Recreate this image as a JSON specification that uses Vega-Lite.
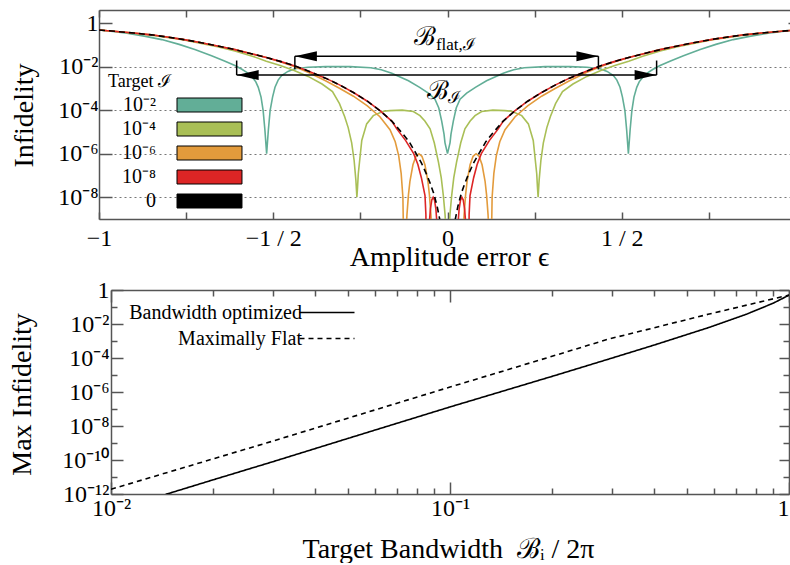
{
"$schema": "https://vega.github.io/schema/vega-lite/v6.json",
"background": "white",
"padding": {"left": 8, "top": 9, "right": 0, "bottom": 0},
"spacing": 71,
"columns": 1,
"bounds": "flush",
"center": true,
"datasets": {
"curves": [
{"s":"1e-2","e":-1,"v":0.479},{"s":"1e-2","e":-0.96,"v":0.407},{"s":"1e-2","e":-0.92,"v":0.339},{"s":"1e-2","e":-0.87,"v":0.251},{"s":"1e-2","e":-0.82,"v":0.174},{"s":"1e-2","e":-0.77,"v":0.105},{"s":"1e-2","e":-0.725,"v":0.0603},{"s":"1e-2","e":-0.677,"v":0.0316},{"s":"1e-2","e":-0.64,"v":0.0182},{"s":"1e-2","e":-0.61,"v":0.0112},{"s":"1e-2","e":-0.59,"v":0.00759},{"s":"1e-2","e":-0.575,"v":0.00525},{"s":"1e-2","e":-0.562,"v":0.00355},{"s":"1e-2","e":-0.55,"v":0.002},{"s":"1e-2","e":-0.543,"v":0.00112},{"s":"1e-2","e":-0.535,"v":3.98e-4},{"s":"1e-2","e":-0.529,"v":9.55e-5},{"s":"1e-2","e":-0.524,"v":1.26e-5},{"s":"1e-2","e":-0.519,"v":1e-6},{"s":"1e-2","e":-0.514,"v":1.26e-5},{"s":"1e-2","e":-0.509,"v":9.55e-5},{"s":"1e-2","e":-0.502,"v":3.98e-4},{"s":"1e-2","e":-0.495,"v":0.00112},{"s":"1e-2","e":-0.486,"v":0.0024},{"s":"1e-2","e":-0.476,"v":0.0039},{"s":"1e-2","e":-0.458,"v":0.006},{"s":"1e-2","e":-0.438,"v":0.00794},{"s":"1e-2","e":-0.4,"v":0.00933},{"s":"1e-2","e":-0.35,"v":0.01},{"s":"1e-2","e":-0.28,"v":0.01},{"s":"1e-2","e":-0.22,"v":0.00891},{"s":"1e-2","e":-0.19,"v":0.00724},{"s":"1e-2","e":-0.16,"v":0.005},{"s":"1e-2","e":-0.112,"v":0.00224},{"s":"1e-2","e":-0.08,"v":0.00112},{"s":"1e-2","e":-0.055,"v":6e-4},{"s":"1e-2","e":-0.036,"v":3.16e-4},{"s":"1e-2","e":-0.025,"v":1.26e-4},{"s":"1e-2","e":-0.0167,"v":3.16e-5},{"s":"1e-2","e":-0.01,"v":7.9e-6},{"s":"1e-2","e":-0.0072,"v":3.16e-6},{"s":"1e-2","e":0,"v":1e-6},
{"s":"1e-2","e":0.0072,"v":3.16e-6},{"s":"1e-2","e":0.01,"v":7.9e-6},{"s":"1e-2","e":0.0167,"v":3.16e-5},{"s":"1e-2","e":0.025,"v":1.26e-4},{"s":"1e-2","e":0.036,"v":3.16e-4},{"s":"1e-2","e":0.055,"v":6e-4},{"s":"1e-2","e":0.08,"v":0.00112},{"s":"1e-2","e":0.112,"v":0.00224},{"s":"1e-2","e":0.16,"v":0.005},{"s":"1e-2","e":0.19,"v":0.00724},{"s":"1e-2","e":0.22,"v":0.00891},{"s":"1e-2","e":0.28,"v":0.01},{"s":"1e-2","e":0.35,"v":0.01},{"s":"1e-2","e":0.4,"v":0.00933},{"s":"1e-2","e":0.438,"v":0.00794},{"s":"1e-2","e":0.458,"v":0.006},{"s":"1e-2","e":0.476,"v":0.0039},{"s":"1e-2","e":0.486,"v":0.0024},{"s":"1e-2","e":0.495,"v":0.00112},{"s":"1e-2","e":0.502,"v":3.98e-4},{"s":"1e-2","e":0.509,"v":9.55e-5},{"s":"1e-2","e":0.514,"v":1.26e-5},{"s":"1e-2","e":0.519,"v":1e-6},{"s":"1e-2","e":0.524,"v":1.26e-5},{"s":"1e-2","e":0.529,"v":9.55e-5},{"s":"1e-2","e":0.535,"v":3.98e-4},{"s":"1e-2","e":0.543,"v":0.00112},{"s":"1e-2","e":0.55,"v":0.002},{"s":"1e-2","e":0.562,"v":0.00355},{"s":"1e-2","e":0.575,"v":0.00525},{"s":"1e-2","e":0.59,"v":0.00759},{"s":"1e-2","e":0.61,"v":0.0112},{"s":"1e-2","e":0.64,"v":0.0182},{"s":"1e-2","e":0.677,"v":0.0316},{"s":"1e-2","e":0.725,"v":0.0603},{"s":"1e-2","e":0.77,"v":0.105},{"s":"1e-2","e":0.82,"v":0.174},{"s":"1e-2","e":0.87,"v":0.251},{"s":"1e-2","e":0.92,"v":0.339},{"s":"1e-2","e":0.96,"v":0.407},{"s":"1e-2","e":1,"v":0.479},{"s":"1e-2","e":1.02,"v":0.51},

{"s":"1e-4","e":-1,"v":0.479},{"s":"1e-4","e":-0.95,"v":0.407},{"s":"1e-4","e":-0.9,"v":0.339},{"s":"1e-4","e":-0.85,"v":0.275},{"s":"1e-4","e":-0.8,"v":0.214},{"s":"1e-4","e":-0.76,"v":0.17},{"s":"1e-4","e":-0.71,"v":0.12},{"s":"1e-4","e":-0.66,"v":0.0813},{"s":"1e-4","e":-0.61,"v":0.0525},{"s":"1e-4","e":-0.56,"v":0.0302},{"s":"1e-4","e":-0.52,"v":0.0178},{"s":"1e-4","e":-0.48,"v":0.0112},{"s":"1e-4","e":-0.44,"v":0.0066},{"s":"1e-4","e":-0.4,"v":0.00355},{"s":"1e-4","e":-0.36,"v":0.00158},{"s":"1e-4","e":-0.33,"v":7.1e-4},{"s":"1e-4","e":-0.31,"v":2e-4},{"s":"1e-4","e":-0.295,"v":5e-5},{"s":"1e-4","e":-0.285,"v":1.58e-5},{"s":"1e-4","e":-0.275,"v":3.16e-6},{"s":"1e-4","e":-0.268,"v":5e-7},{"s":"1e-4","e":-0.263,"v":6.3e-8},{"s":"1e-4","e":-0.26,"v":1e-8},{"s":"1e-4","e":-0.258,"v":3.16e-8},{"s":"1e-4","e":-0.256,"v":1.2e-7},{"s":"1e-4","e":-0.246,"v":4.07e-6},{"s":"1e-4","e":-0.232,"v":2.34e-5},{"s":"1e-4","e":-0.213,"v":5.6e-5},{"s":"1e-4","e":-0.184,"v":8.9e-5},{"s":"1e-4","e":-0.165,"v":9.55e-5},{"s":"1e-4","e":-0.13,"v":1e-4},{"s":"1e-4","e":-0.098,"v":8.7e-5},{"s":"1e-4","e":-0.079,"v":5.6e-5},{"s":"1e-4","e":-0.065,"v":3.16e-5},{"s":"1e-4","e":-0.05,"v":1.38e-5},{"s":"1e-4","e":-0.038,"v":3.16e-6},{"s":"1e-4","e":-0.026,"v":4.07e-7},{"s":"1e-4","e":-0.018,"v":7.9e-8},{"s":"1e-4","e":-0.012,"v":1.2e-8},{"s":"1e-4","e":-0.007,"v":1.58e-9},{"s":"1e-4","e":-0.003,"v":1e-10},{"s":"1e-4","e":0,"v":1e-11},
{"s":"1e-4","e":0.003,"v":1e-10},{"s":"1e-4","e":0.007,"v":1.58e-9},{"s":"1e-4","e":0.012,"v":1.2e-8},{"s":"1e-4","e":0.018,"v":7.9e-8},{"s":"1e-4","e":0.026,"v":4.07e-7},{"s":"1e-4","e":0.038,"v":3.16e-6},{"s":"1e-4","e":0.05,"v":1.38e-5},{"s":"1e-4","e":0.065,"v":3.16e-5},{"s":"1e-4","e":0.079,"v":5.6e-5},{"s":"1e-4","e":0.098,"v":8.7e-5},{"s":"1e-4","e":0.13,"v":1e-4},{"s":"1e-4","e":0.165,"v":9.55e-5},{"s":"1e-4","e":0.184,"v":8.9e-5},{"s":"1e-4","e":0.213,"v":5.6e-5},{"s":"1e-4","e":0.232,"v":2.34e-5},{"s":"1e-4","e":0.246,"v":4.07e-6},{"s":"1e-4","e":0.256,"v":1.2e-7},{"s":"1e-4","e":0.258,"v":3.16e-8},{"s":"1e-4","e":0.26,"v":1e-8},{"s":"1e-4","e":0.263,"v":6.3e-8},{"s":"1e-4","e":0.268,"v":5e-7},{"s":"1e-4","e":0.275,"v":3.16e-6},{"s":"1e-4","e":0.285,"v":1.58e-5},{"s":"1e-4","e":0.295,"v":5e-5},{"s":"1e-4","e":0.31,"v":2e-4},{"s":"1e-4","e":0.33,"v":7.1e-4},{"s":"1e-4","e":0.36,"v":0.00158},{"s":"1e-4","e":0.4,"v":0.00355},{"s":"1e-4","e":0.44,"v":0.0066},{"s":"1e-4","e":0.48,"v":0.0112},{"s":"1e-4","e":0.52,"v":0.0178},{"s":"1e-4","e":0.56,"v":0.0302},{"s":"1e-4","e":0.61,"v":0.0525},{"s":"1e-4","e":0.66,"v":0.0813},{"s":"1e-4","e":0.71,"v":0.12},{"s":"1e-4","e":0.76,"v":0.17},{"s":"1e-4","e":0.8,"v":0.214},{"s":"1e-4","e":0.85,"v":0.275},{"s":"1e-4","e":0.9,"v":0.339},{"s":"1e-4","e":0.95,"v":0.407},{"s":"1e-4","e":1,"v":0.479},{"s":"1e-4","e":1.02,"v":0.51},

{"s":"1e-6","e":-1,"v":0.482},{"s":"1e-6","e":-0.95,"v":0.412},{"s":"1e-6","e":-0.9,"v":0.347},{"s":"1e-6","e":-0.85,"v":0.288},{"s":"1e-6","e":-0.8,"v":0.224},{"s":"1e-6","e":-0.76,"v":0.178},{"s":"1e-6","e":-0.71,"v":0.129},{"s":"1e-6","e":-0.66,"v":0.0891},{"s":"1e-6","e":-0.61,"v":0.0603},{"s":"1e-6","e":-0.56,"v":0.038},{"s":"1e-6","e":-0.52,"v":0.0263},{"s":"1e-6","e":-0.48,"v":0.0166},{"s":"1e-6","e":-0.44,"v":0.01},{"s":"1e-6","e":-0.4,"v":0.0055},{"s":"1e-6","e":-0.35,"v":0.00224},{"s":"1e-6","e":-0.31,"v":0.00102},{"s":"1e-6","e":-0.27,"v":4.37e-4},{"s":"1e-6","e":-0.23,"v":1.58e-4},{"s":"1e-6","e":-0.194,"v":5e-5},{"s":"1e-6","e":-0.165,"v":1.26e-5},{"s":"1e-6","e":-0.15,"v":3.55e-6},{"s":"1e-6","e":-0.14,"v":7.9e-7},{"s":"1e-6","e":-0.133,"v":1.26e-7},{"s":"1e-6","e":-0.128,"v":1e-8},{"s":"1e-6","e":-0.125,"v":1e-11},{"s":"1e-6","e":-0.1207,"v":4e-11},{"s":"1e-6","e":-0.1164,"v":1.55e-9},{"s":"1e-6","e":-0.1121,"v":1.29e-8},{"s":"1e-6","e":-0.1078,"v":5.4e-8},{"s":"1e-6","e":-0.0992,"v":3.1e-7},{"s":"1e-6","e":-0.0906,"v":7.6e-7},{"s":"1e-6","e":-0.082,"v":1e-6},{"s":"1e-6","e":-0.0734,"v":7.6e-7},{"s":"1e-6","e":-0.0648,"v":3.1e-7},{"s":"1e-6","e":-0.0562,"v":5.4e-8},{"s":"1e-6","e":-0.0519,"v":1.29e-8},{"s":"1e-6","e":-0.0476,"v":1.55e-9},{"s":"1e-6","e":-0.0433,"v":4e-11},{"s":"1e-6","e":-0.039,"v":1e-11},{"s":"1e-6","e":0,"v":1e-11},
{"s":"1e-6","e":0.039,"v":1e-11},{"s":"1e-6","e":0.0433,"v":4e-11},{"s":"1e-6","e":0.0476,"v":1.55e-9},{"s":"1e-6","e":0.0519,"v":1.29e-8},{"s":"1e-6","e":0.0562,"v":5.4e-8},{"s":"1e-6","e":0.0648,"v":3.1e-7},{"s":"1e-6","e":0.0734,"v":7.6e-7},{"s":"1e-6","e":0.082,"v":1e-6},{"s":"1e-6","e":0.0906,"v":7.6e-7},{"s":"1e-6","e":0.0992,"v":3.1e-7},{"s":"1e-6","e":0.1078,"v":5.4e-8},{"s":"1e-6","e":0.1121,"v":1.29e-8},{"s":"1e-6","e":0.1164,"v":1.55e-9},{"s":"1e-6","e":0.1207,"v":4e-11},{"s":"1e-6","e":0.125,"v":1e-11},{"s":"1e-6","e":0.128,"v":1e-8},{"s":"1e-6","e":0.133,"v":1.26e-7},{"s":"1e-6","e":0.14,"v":7.9e-7},{"s":"1e-6","e":0.15,"v":3.55e-6},{"s":"1e-6","e":0.165,"v":1.26e-5},{"s":"1e-6","e":0.194,"v":5e-5},{"s":"1e-6","e":0.23,"v":1.58e-4},{"s":"1e-6","e":0.27,"v":4.37e-4},{"s":"1e-6","e":0.31,"v":0.00102},{"s":"1e-6","e":0.35,"v":0.00224},{"s":"1e-6","e":0.4,"v":0.0055},{"s":"1e-6","e":0.44,"v":0.01},{"s":"1e-6","e":0.48,"v":0.0166},{"s":"1e-6","e":0.52,"v":0.0263},{"s":"1e-6","e":0.56,"v":0.038},{"s":"1e-6","e":0.61,"v":0.0603},{"s":"1e-6","e":0.66,"v":0.0891},{"s":"1e-6","e":0.71,"v":0.129},{"s":"1e-6","e":0.76,"v":0.178},{"s":"1e-6","e":0.8,"v":0.224},{"s":"1e-6","e":0.85,"v":0.288},{"s":"1e-6","e":0.9,"v":0.347},{"s":"1e-6","e":0.95,"v":0.412},{"s":"1e-6","e":1,"v":0.482},{"s":"1e-6","e":1.02,"v":0.515},

{"s":"1e-8","e":-1,"v":0.482},{"s":"1e-8","e":-0.95,"v":0.412},{"s":"1e-8","e":-0.9,"v":0.347},{"s":"1e-8","e":-0.85,"v":0.288},{"s":"1e-8","e":-0.8,"v":0.224},{"s":"1e-8","e":-0.76,"v":0.178},{"s":"1e-8","e":-0.71,"v":0.129},{"s":"1e-8","e":-0.66,"v":0.0891},{"s":"1e-8","e":-0.61,"v":0.0603},{"s":"1e-8","e":-0.56,"v":0.038},{"s":"1e-8","e":-0.52,"v":0.0263},{"s":"1e-8","e":-0.48,"v":0.0174},{"s":"1e-8","e":-0.44,"v":0.011},{"s":"1e-8","e":-0.4,"v":0.00631},{"s":"1e-8","e":-0.35,"v":0.00295},{"s":"1e-8","e":-0.31,"v":0.00145},{"s":"1e-8","e":-0.27,"v":6.46e-4},{"s":"1e-8","e":-0.23,"v":2.57e-4},{"s":"1e-8","e":-0.194,"v":9.55e-5},{"s":"1e-8","e":-0.16,"v":3.16e-5},{"s":"1e-8","e":-0.146,"v":1.41e-5},{"s":"1e-8","e":-0.12,"v":3.98e-6},{"s":"1e-8","e":-0.097,"v":1e-6},{"s":"1e-8","e":-0.085,"v":3.16e-7},{"s":"1e-8","e":-0.075,"v":7.9e-8},{"s":"1e-8","e":-0.0646,"v":1.2e-8},{"s":"1e-8","e":-0.062,"v":1.58e-9},{"s":"1e-8","e":-0.061,"v":1e-11},{"s":"1e-8","e":-0.0571,"v":1e-11},{"s":"1e-8","e":-0.0531,"v":4.07e-10},{"s":"1e-8","e":-0.0491,"v":2.82e-9},{"s":"1e-8","e":-0.0452,"v":7.4e-9},{"s":"1e-8","e":-0.0412,"v":1e-8},{"s":"1e-8","e":-0.0373,"v":7.4e-9},{"s":"1e-8","e":-0.0333,"v":2.82e-9},{"s":"1e-8","e":-0.0294,"v":4.07e-10},{"s":"1e-8","e":-0.0254,"v":1e-11},{"s":"1e-8","e":-0.0215,"v":1e-12},{"s":"1e-8","e":0,"v":1e-12},
{"s":"1e-8","e":0.0215,"v":1e-12},{"s":"1e-8","e":0.0254,"v":1e-11},{"s":"1e-8","e":0.0294,"v":4.07e-10},{"s":"1e-8","e":0.0333,"v":2.82e-9},{"s":"1e-8","e":0.0373,"v":7.4e-9},{"s":"1e-8","e":0.0412,"v":1e-8},{"s":"1e-8","e":0.0452,"v":7.4e-9},{"s":"1e-8","e":0.0491,"v":2.82e-9},{"s":"1e-8","e":0.0531,"v":4.07e-10},{"s":"1e-8","e":0.0571,"v":1e-11},{"s":"1e-8","e":0.061,"v":1e-11},{"s":"1e-8","e":0.062,"v":1.58e-9},{"s":"1e-8","e":0.0646,"v":1.2e-8},{"s":"1e-8","e":0.075,"v":7.9e-8},{"s":"1e-8","e":0.085,"v":3.16e-7},{"s":"1e-8","e":0.097,"v":1e-6},{"s":"1e-8","e":0.12,"v":3.98e-6},{"s":"1e-8","e":0.146,"v":1.41e-5},{"s":"1e-8","e":0.16,"v":3.16e-5},{"s":"1e-8","e":0.194,"v":9.55e-5},{"s":"1e-8","e":0.23,"v":2.57e-4},{"s":"1e-8","e":0.27,"v":6.46e-4},{"s":"1e-8","e":0.31,"v":0.00145},{"s":"1e-8","e":0.35,"v":0.00295},{"s":"1e-8","e":0.4,"v":0.00631},{"s":"1e-8","e":0.44,"v":0.011},{"s":"1e-8","e":0.48,"v":0.0174},{"s":"1e-8","e":0.52,"v":0.0263},{"s":"1e-8","e":0.56,"v":0.038},{"s":"1e-8","e":0.61,"v":0.0603},{"s":"1e-8","e":0.66,"v":0.0891},{"s":"1e-8","e":0.71,"v":0.129},{"s":"1e-8","e":0.76,"v":0.178},{"s":"1e-8","e":0.8,"v":0.224},{"s":"1e-8","e":0.85,"v":0.288},{"s":"1e-8","e":0.9,"v":0.347},{"s":"1e-8","e":0.95,"v":0.412},{"s":"1e-8","e":1,"v":0.482},{"s":"1e-8","e":1.02,"v":0.515},

{"s":"0","e":-1,"v":0.482},{"s":"0","e":-0.95,"v":0.412},{"s":"0","e":-0.9,"v":0.347},{"s":"0","e":-0.85,"v":0.288},{"s":"0","e":-0.8,"v":0.224},{"s":"0","e":-0.76,"v":0.178},{"s":"0","e":-0.71,"v":0.129},{"s":"0","e":-0.66,"v":0.0891},{"s":"0","e":-0.61,"v":0.0603},{"s":"0","e":-0.56,"v":0.038},{"s":"0","e":-0.52,"v":0.0263},{"s":"0","e":-0.48,"v":0.0174},{"s":"0","e":-0.44,"v":0.011},{"s":"0","e":-0.4,"v":0.00631},{"s":"0","e":-0.35,"v":0.00295},{"s":"0","e":-0.31,"v":0.00145},{"s":"0","e":-0.27,"v":6.46e-4},{"s":"0","e":-0.23,"v":2.57e-4},{"s":"0","e":-0.194,"v":9.55e-5},{"s":"0","e":-0.16,"v":3.16e-5},{"s":"0","e":-0.13,"v":8.9e-6},{"s":"0","e":-0.11,"v":3.55e-6},{"s":"0","e":-0.09,"v":1e-6},{"s":"0","e":-0.075,"v":3.8e-7},{"s":"0","e":-0.06,"v":1.12e-7},{"s":"0","e":-0.05,"v":4.47e-8},{"s":"0","e":-0.04,"v":1.58e-8},{"s":"0","e":-0.03,"v":3.98e-9},{"s":"0","e":-0.02,"v":6.3e-10},{"s":"0","e":-0.01,"v":2e-11},{"s":"0","e":0,"v":1e-14},
{"s":"0","e":0.01,"v":2e-11},{"s":"0","e":0.02,"v":6.3e-10},{"s":"0","e":0.03,"v":3.98e-9},{"s":"0","e":0.04,"v":1.58e-8},{"s":"0","e":0.05,"v":4.47e-8},{"s":"0","e":0.06,"v":1.12e-7},{"s":"0","e":0.075,"v":3.8e-7},{"s":"0","e":0.09,"v":1e-6},{"s":"0","e":0.11,"v":3.55e-6},{"s":"0","e":0.13,"v":8.9e-6},{"s":"0","e":0.16,"v":3.16e-5},{"s":"0","e":0.194,"v":9.55e-5},{"s":"0","e":0.23,"v":2.57e-4},{"s":"0","e":0.27,"v":6.46e-4},{"s":"0","e":0.31,"v":0.00145},{"s":"0","e":0.35,"v":0.00295},{"s":"0","e":0.4,"v":0.00631},{"s":"0","e":0.44,"v":0.011},{"s":"0","e":0.48,"v":0.0174},{"s":"0","e":0.52,"v":0.0263},{"s":"0","e":0.56,"v":0.038},{"s":"0","e":0.61,"v":0.0603},{"s":"0","e":0.66,"v":0.0891},{"s":"0","e":0.71,"v":0.129},{"s":"0","e":0.76,"v":0.178},{"s":"0","e":0.8,"v":0.224},{"s":"0","e":0.85,"v":0.288},{"s":"0","e":0.9,"v":0.347},{"s":"0","e":0.95,"v":0.412},{"s":"0","e":1,"v":0.482},{"s":"0","e":1.02,"v":0.515}
],
"bw": [
{"t":"Bandwidth optimized","b":0.0145,"v":9.5e-13},{"t":"Bandwidth optimized","b":0.02,"v":6.8e-12},{"t":"Bandwidth optimized","b":0.03,"v":7.9e-11},{"t":"Bandwidth optimized","b":0.05,"v":1.86e-9},{"t":"Bandwidth optimized","b":0.1,"v":1.32e-7},{"t":"Bandwidth optimized","b":0.2,"v":8.3e-6},{"t":"Bandwidth optimized","b":0.292,"v":8.3e-5},{"t":"Bandwidth optimized","b":0.4,"v":5.75e-4},{"t":"Bandwidth optimized","b":0.577,"v":0.006},{"t":"Bandwidth optimized","b":0.75,"v":0.038},{"t":"Bandwidth optimized","b":0.9,"v":0.17},{"t":"Bandwidth optimized","b":1,"v":0.5},
{"t":"Maximally Flat","b":0.01,"v":1.9e-12},{"t":"Maximally Flat","b":0.03,"v":1.29e-9},{"t":"Maximally Flat","b":0.1,"v":1.95e-6},{"t":"Maximally Flat","b":0.2,"v":1.26e-4},{"t":"Maximally Flat","b":0.292,"v":0.00126},{"t":"Maximally Flat","b":0.4,"v":0.006},{"t":"Maximally Flat","b":0.577,"v":0.037},{"t":"Maximally Flat","b":0.75,"v":0.129},{"t":"Maximally Flat","b":1,"v":0.5}
]
},
"concat": [
{
"width": 702, "height": 209,
"resolve": {"axis": {"x": "independent", "y": "independent"}},
"layer": [
{"data": {"name": "curves"}, "transform": [{"filter": "datum.s == '1e-2'"}],
 "mark": {"type": "line", "color": "#62ae97", "strokeWidth": 1.6, "clip": true},
 "encoding": {
  "x": {"field": "e", "type": "quantitative", "scale": {"domain": [-1, 1.0143], "nice": false, "zero": false},
   "axis": {"orient": "bottom", "values": [-1, -0.75, -0.5, -0.25, 0, 0.25, 0.5, 0.75, 1], "labelExpr": "datum.value == -1 ? '−1' : datum.value == -0.5 ? '−1 / 2' : datum.value == 0 ? '0' : datum.value == 0.5 ? '1 / 2' : ''", "tickSize": -7, "labelPadding": 14, "title": "Amplitude error ϵ", "titleX": 350, "titleY": 46, "titleBaseline": "alphabetic"}},
  "y": {"field": "v", "type": "quantitative", "scale": {"type": "log", "domain": [1e-9, 3.98], "nice": false},
   "axis": {"orient": "left", "values": [1, 0.01, 0.0001, 0.000001, 1e-8], "labelExpr": "datum.value > 0.5 ? '1' : datum.value > 1e-3 ? '10⁻²' : datum.value > 1e-5 ? '10⁻⁴' : datum.value > 1e-7 ? '10⁻⁶' : '10⁻⁸'", "tickSize": -13, "labelPadding": 14, "title": "Infidelity", "titleX": -67, "titleY": 105, "titleAngle": 270, "titleBaseline": "alphabetic"}}
 }},
{"data": {"name": "curves"}, "transform": [{"filter": "datum.s == '1e-4'"}],
 "mark": {"type": "line", "color": "#a9bf56", "strokeWidth": 1.6, "clip": true},
 "encoding": {
  "x": {"field": "e", "type": "quantitative", "scale": {"domain": [-1, 1.0143], "nice": false, "zero": false},
   "axis": {"orient": "top", "values": [-1, -0.75, -0.5, -0.25, 0, 0.25, 0.5, 0.75, 1], "labels": false, "tickSize": -7, "title": null}},
  "y": {"field": "v", "type": "quantitative", "scale": {"type": "log", "domain": [1e-9, 3.98], "nice": false},
   "axis": {"orient": "right", "values": [1], "labels": false, "tickSize": -13, "title": null, "domain": false}}
 }},
{"data": {"name": "curves"}, "transform": [{"filter": "datum.s == '1e-6'"}],
 "mark": {"type": "line", "color": "#e39b3c", "strokeWidth": 1.6, "clip": true},
 "encoding": {
  "x": {"field": "e", "type": "quantitative", "scale": {"domain": [-1, 1.0143], "nice": false, "zero": false}, "axis": null},
  "y": {"field": "v", "type": "quantitative", "scale": {"type": "log", "domain": [1e-9, 3.98], "nice": false},
   "axis": {"orient": "left", "values": [0.01, 0.0001, 0.000001, 1e-8], "grid": true, "gridDash": [2, 3], "gridColor": "#777", "gridWidth": 1, "ticks": false, "labels": false, "domain": false, "title": null}}
 }},
{"data": {"name": "curves"}, "transform": [{"filter": "datum.s == '1e-8'"}],
 "mark": {"type": "line", "color": "#dd2525", "strokeWidth": 1.6, "clip": true},
 "encoding": {
  "x": {"field": "e", "type": "quantitative", "scale": {"domain": [-1, 1.0143], "nice": false, "zero": false}, "axis": null},
  "y": {"field": "v", "type": "quantitative", "scale": {"type": "log", "domain": [1e-9, 3.98], "nice": false}, "axis": null}
 }},
{"data": {"name": "curves"}, "transform": [{"filter": "datum.s == '0'"}],
 "mark": {"type": "line", "color": "#000000", "strokeWidth": 1.6, "strokeDash": [6, 4], "clip": true},
 "encoding": {
  "x": {"field": "e", "type": "quantitative", "scale": {"domain": [-1, 1.0143], "nice": false, "zero": false}, "axis": null},
  "y": {"field": "v", "type": "quantitative", "scale": {"type": "log", "domain": [1e-9, 3.98], "nice": false}, "axis": null}
 }},
{"data": {"values": [{"x": -0.438, "x2": 0.433, "y": 0.03}, {"x": -0.605, "x2": 0.6, "y": 0.0041}]},
 "mark": {"type": "rule", "color": "black", "strokeWidth": 1.5},
 "encoding": {
  "x": {"field": "x", "type": "quantitative", "scale": {"domain": [-1, 1.0143], "nice": false, "zero": false}, "axis": null},
  "x2": {"field": "x2"},
  "y": {"field": "y", "type": "quantitative", "scale": {"type": "log", "domain": [1e-9, 3.98], "nice": false}, "axis": null}
 }},
{"data": {"values": [{"x": -0.438, "y": 0.03, "y2": 0.0075}, {"x": 0.433, "y": 0.03, "y2": 0.0075}, {"x": -0.605, "y": 0.0041, "y2": 0.019}, {"x": 0.6, "y": 0.0041, "y2": 0.019}]},
 "mark": {"type": "rule", "color": "black", "strokeWidth": 1.5},
 "encoding": {
  "x": {"field": "x", "type": "quantitative", "scale": {"domain": [-1, 1.0143], "nice": false, "zero": false}, "axis": null},
  "y": {"field": "y", "type": "quantitative", "scale": {"type": "log", "domain": [1e-9, 3.98], "nice": false}, "axis": null},
  "y2": {"field": "y2"}
 }},
{"data": {"values": [{"x": -0.438, "y": 0.03, "d": "L"}, {"x": 0.433, "y": 0.03, "d": "R"}, {"x": -0.605, "y": 0.0041, "d": "L"}, {"x": 0.6, "y": 0.0041, "d": "R"}]},
 "mark": {"type": "point", "filled": true, "color": "black", "opacity": 1, "size": 484, "strokeWidth": 0},
 "encoding": {
  "x": {"field": "x", "type": "quantitative", "scale": {"domain": [-1, 1.0143], "nice": false, "zero": false}, "axis": null},
  "y": {"field": "y", "type": "quantitative", "scale": {"type": "log", "domain": [1e-9, 3.98], "nice": false}, "axis": null},
  "shape": {"field": "d", "type": "nominal", "scale": {"domain": ["L", "R"], "range": ["M0,0L2,-0.45L2,0.45Z", "M0,0L-2,-0.45L-2,0.45Z"]}, "legend": null}
 }},
{"data": {"values": [{"x": -0.0646, "y": 0.22, "t": "ℬ"}, {"x": -0.026, "y": 0.00079, "t": "ℬ"}]},
 "mark": {"type": "text", "font": "DejaVu Serif", "fontSize": 26, "color": "black", "align": "center", "baseline": "middle"},
 "encoding": {
  "x": {"field": "x", "type": "quantitative", "scale": {"domain": [-1, 1.0143], "nice": false, "zero": false}, "axis": null},
  "y": {"field": "y", "type": "quantitative", "scale": {"type": "log", "domain": [1e-9, 3.98], "nice": false}, "axis": null},
  "text": {"field": "t"}
 }},
{"data": {"values": [{"x": 0.024, "y": 0.102, "t": "flat,ℐ"}, {"x": 0.0207, "y": 0.000355, "t": "ℐ"}]},
 "mark": {"type": "text", "font": "Liberation Serif", "fontSize": 17, "color": "black", "align": "center", "baseline": "middle"},
 "encoding": {
  "x": {"field": "x", "type": "quantitative", "scale": {"domain": [-1, 1.0143], "nice": false, "zero": false}, "axis": null},
  "y": {"field": "y", "type": "quantitative", "scale": {"type": "log", "domain": [1e-9, 3.98], "nice": false}, "axis": null},
  "text": {"field": "t"}
 }},
{"data": {"name": "curves"}, "transform": [{"filter": "datum.e > 5"}],
 "mark": {"type": "square", "filled": true, "stroke": "black", "strokeWidth": 1, "opacity": 1},
 "encoding": {
  "x": {"field": "e", "type": "quantitative", "scale": {"domain": [-1, 1.0143], "nice": false, "zero": false}, "axis": null},
  "y": {"field": "v", "type": "quantitative", "scale": {"type": "log", "domain": [1e-9, 3.98], "nice": false}, "axis": null},
  "fill": {"field": "s", "type": "nominal",
   "scale": {"domain": ["1e-2", "1e-4", "1e-6", "1e-8", "0"], "range": ["#62ae97", "#a9bf56", "#e39b3c", "#dd2525", "#000000"]},
   "legend": {"orient": "none", "legendX": 9, "legendY": 63, "title": "Target ℐ", "titleFont": "Liberation Serif", "titleFontSize": 18, "titleFontWeight": "normal", "titleColor": "black", "titlePadding": 4,
    "labelFont": "Liberation Serif", "labelFontSize": 20, "labelColor": "black", "labelAlign": "right", "labelOffset": 28,
    "labelExpr": "datum.label == '1e-2' ? '10⁻²' : datum.label == '1e-4' ? '10⁻⁴' : datum.label == '1e-6' ? '10⁻⁶' : datum.label == '1e-8' ? '10⁻⁸' : '0'",
    "symbolType": "M8.43,-1H17.71V1H8.43Z", "symbolSize": 196, "symbolStrokeColor": "black", "symbolStrokeWidth": 1, "rowPadding": 4, "padding": 0}}
 }}
]
},
{
"width": 678, "height": 204,
"resolve": {"axis": {"x": "independent", "y": "independent"}},
"layer": [
{"data": {"name": "bw"},
 "mark": {"type": "line", "color": "black", "strokeWidth": 1.6, "clip": true},
 "encoding": {
  "x": {"field": "b", "type": "quantitative", "scale": {"type": "log", "domain": [0.01, 1], "nice": false},
   "axis": {"orient": "bottom", "values": [0.01, 0.1, 1], "labelExpr": "datum.value < 0.05 ? '10⁻²' : datum.value < 0.5 ? '10⁻¹' : '1'", "labelAlign": {"condition": {"test": "datum.value > 0.5", "value": "right"}, "value": "center"}, "tickSize": -12, "labelPadding": 14, "title": "Target Bandwidth\u00a0\u00a0ℬᵢ / 2π", "titleX": 337, "titleY": 63, "titleBaseline": "alphabetic"}},
  "y": {"field": "v", "type": "quantitative", "scale": {"type": "log", "domain": [1e-12, 1], "nice": false},
   "axis": {"orient": "left", "values": [1, 0.01, 0.0001, 0.000001, 1e-8, 1e-10, 1e-12], "labelExpr": "datum.value > 0.5 ? '1' : datum.value > 1e-3 ? '10⁻²' : datum.value > 1e-5 ? '10⁻⁴' : datum.value > 1e-7 ? '10⁻⁶' : datum.value > 1e-9 ? '10⁻⁸' : datum.value > 1e-11 ? '10⁻¹⁰' : '10⁻¹²'", "tickSize": -12, "labelPadding": 14, "title": "Max Infidelity", "titleX": -81, "titleY": 104, "titleAngle": 270, "titleBaseline": "alphabetic"}},
  "strokeDash": {"field": "t", "type": "nominal", "scale": {"domain": ["Bandwidth optimized", "Maximally Flat"], "range": [[1, 0], [5, 4]]},
   "legend": {"orient": "none", "legendX": 178.5, "legendY": 12.5, "title": null, "labelFont": "Liberation Serif", "labelFontSize": 20, "labelColor": "black", "labelAlign": "right", "labelOffset": -7.5, "labelLimit": 400, "symbolType": "M0,0H10", "symbolSize": 121, "symbolStrokeWidth": 1.5, "symbolStrokeColor": "black", "rowPadding": 6, "padding": 0}}
 }},
{"data": {"name": "bw"}, "transform": [{"filter": "datum.b > 5"}],
 "mark": {"type": "point", "opacity": 0},
 "encoding": {
  "x": {"field": "b", "type": "quantitative", "scale": {"type": "log", "domain": [0.01, 1], "nice": false},
   "axis": {"orient": "top", "values": [0.01, 0.1, 1], "labels": false, "tickSize": -12, "title": null}},
  "y": {"field": "v", "type": "quantitative", "scale": {"type": "log", "domain": [1e-12, 1], "nice": false},
   "axis": {"orient": "right", "values": [1, 0.01, 0.0001, 0.000001, 1e-8, 1e-10, 1e-12], "labels": false, "tickSize": -10, "title": null}}
 }},
{"data": {"name": "bw"}, "transform": [{"filter": "datum.b > 5"}],
 "mark": {"type": "point", "opacity": 0},
 "encoding": {
  "x": {"field": "b", "type": "quantitative", "scale": {"type": "log", "domain": [0.01, 1], "nice": false},
   "axis": {"orient": "bottom", "values": [0.02, 0.03, 0.04, 0.05, 0.06, 0.07, 0.08, 0.09, 0.2, 0.3, 0.4, 0.5, 0.6, 0.7, 0.8, 0.9], "labels": false, "tickSize": -6, "domain": false, "title": null}},
  "y": {"field": "v", "type": "quantitative", "scale": {"type": "log", "domain": [1e-12, 1], "nice": false},
   "axis": {"orient": "left", "values": [0.1, 0.001, 0.00001, 1e-7, 1e-9, 1e-11], "labels": false, "tickSize": -6, "domain": false, "title": null}}
 }},
{"data": {"name": "bw"}, "transform": [{"filter": "datum.b > 5"}],
 "mark": {"type": "point", "opacity": 0},
 "encoding": {
  "x": {"field": "b", "type": "quantitative", "scale": {"type": "log", "domain": [0.01, 1], "nice": false},
   "axis": {"orient": "top", "values": [0.02, 0.03, 0.04, 0.05, 0.06, 0.07, 0.08, 0.09, 0.2, 0.3, 0.4, 0.5, 0.6, 0.7, 0.8, 0.9], "labels": false, "tickSize": -6, "domain": false, "title": null}},
  "y": {"field": "v", "type": "quantitative", "scale": {"type": "log", "domain": [1e-12, 1], "nice": false},
   "axis": {"orient": "right", "values": [0.1, 0.001, 0.00001, 1e-7, 1e-9, 1e-11], "labels": false, "tickSize": -6, "domain": false, "title": null}}
 }}
]
}
],
"resolve": {"legend": {"fill": "independent", "strokeDash": "independent"}},
"config": {
 "font": "Liberation Serif",
 "view": {"stroke": null},
 "axis": {"labelFont": "Liberation Serif", "labelFontSize": 24, "labelColor": "black", "titleFont": "Liberation Serif", "titleFontSize": 28, "titleFontWeight": "normal", "titleColor": "black", "domainColor": "#555555", "domainWidth": 1.5, "tickColor": "#555555", "tickWidth": 1.5, "labelFlush": false, "labelOverlap": false, "grid": false, "labelBound": false}
}
}
